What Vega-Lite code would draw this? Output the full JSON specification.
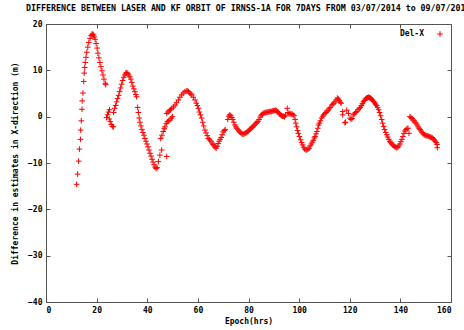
{
  "$schema": "https://vega.github.io/schema/vega-lite/v6.json",
  "width": 405,
  "height": 278,
  "autosize": "none",
  "padding": {"left": 46, "top": 24, "right": 13, "bottom": 28},
  "background": "white",
  "title": {"text": "DIFFERENCE BETWEEN LASER AND KF ORBIT OF IRNSS-1A FOR 7DAYS FROM 03/07/2014 to 09/07/2014", "anchor": "start", "frame": "group", "dx": -20, "offset": 8, "font": "DejaVu Sans Mono", "fontSize": 8.3, "fontWeight": "bold", "color": "#000"},
  "config": {"view": {"stroke": "#555", "strokeWidth": 1}, "axis": {"grid": false, "domain": false, "labelFont": "DejaVu Sans Mono", "labelFontSize": 8, "labelFontWeight": "bold", "labelColor": "#000", "titleFont": "DejaVu Sans Mono", "titleFontSize": 8, "titleFontWeight": "bold", "titleColor": "#000", "tickColor": "#555", "tickSize": -4, "labelPadding": 8}},
  "datasets": {"pts": [
    {"epoch":12.1,"delx":-14.6},{"epoch":12.5,"delx":-12.4},{"epoch":12.9,"delx":-9.6},{"epoch":13.2,"delx":-7.0},{"epoch":13.6,"delx":-4.9},{"epoch":13.7,"delx":-2.9},{"epoch":13.95,"delx":-0.9},{"epoch":14.2,"delx":1.6},{"epoch":14.3,"delx":3.4},{"epoch":14.6,"delx":5.1},{"epoch":14.9,"delx":7.6},{"epoch":15.1,"delx":9.4},{"epoch":15.3,"delx":10.6},{"epoch":15.5,"delx":11.7},{"epoch":15.8,"delx":12.8},{"epoch":16.1,"delx":13.9},{"epoch":16.5,"delx":15.0},{"epoch":16.9,"delx":16.0},{"epoch":17.4,"delx":16.9},{"epoch":17.8,"delx":17.5},{"epoch":18.2,"delx":17.8},{"epoch":18.5,"delx":17.8},{"epoch":18.8,"delx":17.6},{"epoch":19.1,"delx":17.2},{"epoch":19.4,"delx":16.7},{"epoch":19.8,"delx":15.8},{"epoch":20.2,"delx":14.8},{"epoch":20.5,"delx":13.7},{"epoch":20.9,"delx":12.7},{"epoch":21.3,"delx":11.7},{"epoch":21.7,"delx":10.8},{"epoch":22.1,"delx":9.9},{"epoch":22.5,"delx":9.0},{"epoch":22.9,"delx":8.1},{"epoch":23.4,"delx":7.2},{"epoch":23.6,"delx":6.9},
    {"epoch":23.9,"delx":-0.2},{"epoch":24.3,"delx":0.4},{"epoch":24.7,"delx":1.0},{"epoch":25.1,"delx":1.5},{"epoch":25.0,"delx":-0.5},{"epoch":25.4,"delx":-1.1},{"epoch":25.8,"delx":-1.7},{"epoch":26.2,"delx":-2.1},{"epoch":26.6,"delx":-2.2},{"epoch":26.7,"delx":0.9},{"epoch":27.1,"delx":1.8},{"epoch":27.5,"delx":2.4},{"epoch":27.9,"delx":3.2},{"epoch":28.3,"delx":3.9},{"epoch":28.7,"delx":4.6},{"epoch":29.1,"delx":5.4},{"epoch":29.5,"delx":6.2},{"epoch":29.9,"delx":7.0},{"epoch":30.3,"delx":7.8},{"epoch":30.7,"delx":8.5},{"epoch":31.1,"delx":9.0},{"epoch":31.5,"delx":9.4},{"epoch":31.9,"delx":9.5},{"epoch":32.3,"delx":9.3},{"epoch":32.7,"delx":9.0},{"epoch":33.1,"delx":8.6},{"epoch":33.5,"delx":8.1},{"epoch":33.9,"delx":7.4},{"epoch":34.3,"delx":6.6},{"epoch":34.7,"delx":6.0},{"epoch":35.1,"delx":5.4},{"epoch":35.5,"delx":4.8},{"epoch":35.8,"delx":4.3},
    {"epoch":36.2,"delx":2.0},{"epoch":36.5,"delx":0.9},{"epoch":36.8,"delx":-0.3},{"epoch":37.1,"delx":-1.2},{"epoch":37.5,"delx":-2.0},{"epoch":37.9,"delx":-2.8},{"epoch":38.3,"delx":-3.4},{"epoch":38.7,"delx":-4.0},{"epoch":39.1,"delx":-4.7},{"epoch":39.5,"delx":-5.3},{"epoch":39.9,"delx":-5.9},{"epoch":40.3,"delx":-6.5},{"epoch":40.7,"delx":-7.2},{"epoch":41.1,"delx":-7.9},{"epoch":41.5,"delx":-8.5},{"epoch":41.9,"delx":-9.2},{"epoch":42.3,"delx":-9.8},{"epoch":42.7,"delx":-10.4},{"epoch":43.1,"delx":-10.9},{"epoch":43.5,"delx":-11.2},{"epoch":43.9,"delx":-11.0},{"epoch":44.4,"delx":-9.7},{"epoch":45.0,"delx":-8.3},{"epoch":45.7,"delx":-7.2},{"epoch":47.7,"delx":-8.6},{"epoch":45.3,"delx":-4.7},{"epoch":45.8,"delx":-4.0},{"epoch":46.3,"delx":-3.2},{"epoch":46.7,"delx":-2.6},{"epoch":47.0,"delx":-2.2},{"epoch":47.5,"delx":-1.5},{"epoch":47.9,"delx":-1.1},{"epoch":48.5,"delx":-0.9},{"epoch":49.0,"delx":-0.7},{"epoch":49.5,"delx":-0.3},{"epoch":50.0,"delx":0.0},{"epoch":47.7,"delx":0.7},{"epoch":48.2,"delx":1.0},{"epoch":48.7,"delx":1.3},{"epoch":49.2,"delx":1.5},{"epoch":49.7,"delx":1.8},{"epoch":50.4,"delx":2.1},{"epoch":51.0,"delx":2.5},{"epoch":51.6,"delx":3.0},{"epoch":52.3,"delx":3.6},{"epoch":52.9,"delx":4.2},{"epoch":53.6,"delx":4.7},{"epoch":54.2,"delx":5.1},{"epoch":54.9,"delx":5.4},{"epoch":55.4,"delx":5.5},{"epoch":55.8,"delx":5.6},{"epoch":56.3,"delx":5.4},{"epoch":56.8,"delx":5.1},{"epoch":57.2,"delx":4.9},{"epoch":57.6,"delx":4.7},{"epoch":58.2,"delx":4.2},{"epoch":58.9,"delx":3.6},{"epoch":59.4,"delx":2.9},{"epoch":59.8,"delx":2.4},{"epoch":60.2,"delx":1.8},{"epoch":60.6,"delx":1.0},{"epoch":61.0,"delx":0.4},{"epoch":61.5,"delx":-0.3},{"epoch":61.9,"delx":-1.2},{"epoch":62.3,"delx":-2.0},{"epoch":62.8,"delx":-2.9},{"epoch":63.2,"delx":-3.5},{"epoch":63.7,"delx":-4.1},{"epoch":64.1,"delx":-4.7},{"epoch":64.6,"delx":-5.0},{"epoch":65.2,"delx":-5.3},{"epoch":65.6,"delx":-5.7},{"epoch":66.0,"delx":-6.0},{"epoch":66.4,"delx":-6.3},{"epoch":66.8,"delx":-6.6},{"epoch":67.2,"delx":-6.8},{"epoch":67.6,"delx":-6.4},{"epoch":68.0,"delx":-5.8},{"epoch":68.4,"delx":-5.3},{"epoch":68.8,"delx":-4.9},{"epoch":69.2,"delx":-4.5},{"epoch":69.6,"delx":-3.9},{"epoch":70.0,"delx":-3.3},{"epoch":70.4,"delx":-3.0},{"epoch":70.8,"delx":-2.8},
    {"epoch":71.8,"delx":-0.6},{"epoch":72.2,"delx":0.1},{"epoch":72.6,"delx":0.4},{"epoch":73.0,"delx":0.2},{"epoch":73.4,"delx":-0.2},{"epoch":73.8,"delx":-0.6},{"epoch":74.2,"delx":-1.2},{"epoch":74.6,"delx":-1.8},{"epoch":75.0,"delx":-2.2},{"epoch":75.4,"delx":-2.5},{"epoch":75.8,"delx":-2.8},{"epoch":76.2,"delx":-3.1},{"epoch":76.6,"delx":-3.3},{"epoch":77.0,"delx":-3.5},{"epoch":77.4,"delx":-3.7},{"epoch":77.8,"delx":-3.8},{"epoch":78.2,"delx":-3.7},{"epoch":78.6,"delx":-3.6},{"epoch":79.0,"delx":-3.5},{"epoch":79.4,"delx":-3.3},{"epoch":79.8,"delx":-3.2},{"epoch":80.2,"delx":-3.0},{"epoch":80.6,"delx":-2.7},{"epoch":81.0,"delx":-2.5},{"epoch":81.4,"delx":-2.3},{"epoch":81.8,"delx":-2.2},{"epoch":82.2,"delx":-1.9},{"epoch":82.6,"delx":-1.6},{"epoch":83.0,"delx":-1.4},{"epoch":83.4,"delx":-1.2},{"epoch":83.8,"delx":-1.0},{"epoch":84.2,"delx":-0.6},{"epoch":84.6,"delx":-0.1},{"epoch":85.0,"delx":0.3},{"epoch":85.4,"delx":0.5},{"epoch":85.8,"delx":0.7},{"epoch":86.2,"delx":0.8},{"epoch":86.6,"delx":0.9},{"epoch":87.0,"delx":0.9},{"epoch":87.4,"delx":1.0},{"epoch":87.8,"delx":1.0},{"epoch":88.2,"delx":1.1},{"epoch":88.6,"delx":1.1},{"epoch":89.0,"delx":1.1},{"epoch":89.4,"delx":1.2},{"epoch":89.8,"delx":1.3},{"epoch":90.2,"delx":1.3},{"epoch":90.6,"delx":1.4},{"epoch":91.0,"delx":1.3},{"epoch":91.4,"delx":1.1},{"epoch":91.8,"delx":0.9},{"epoch":92.2,"delx":0.6},{"epoch":92.6,"delx":0.4},{"epoch":93.0,"delx":0.2},{"epoch":93.4,"delx":0.1},{"epoch":93.8,"delx":0.1},{"epoch":94.2,"delx":0.0},{"epoch":94.6,"delx":0.3},{"epoch":95.3,"delx":1.8},{"epoch":95.6,"delx":0.9},{"epoch":96.0,"delx":0.6},{"epoch":96.4,"delx":0.7},{"epoch":96.8,"delx":0.5},{"epoch":97.2,"delx":0.6},{"epoch":97.6,"delx":0.4},{"epoch":98.0,"delx":0.2},{"epoch":98.4,"delx":-0.6},{"epoch":98.7,"delx":-1.4},{"epoch":99.0,"delx":-2.2},{"epoch":99.4,"delx":-3.0},{"epoch":99.7,"delx":-3.6},{"epoch":100.1,"delx":-4.3},{"epoch":100.6,"delx":-5.0},{"epoch":101.0,"delx":-5.6},{"epoch":101.4,"delx":-6.1},{"epoch":101.8,"delx":-6.6},{"epoch":102.2,"delx":-7.0},{"epoch":102.7,"delx":-7.2},{"epoch":103.1,"delx":-7.1},{"epoch":103.5,"delx":-7.0},{"epoch":104.0,"delx":-6.8},{"epoch":104.4,"delx":-6.3},{"epoch":104.8,"delx":-5.9},{"epoch":105.2,"delx":-5.5},{"epoch":105.6,"delx":-5.1},{"epoch":106.0,"delx":-4.6},{"epoch":106.3,"delx":-4.3},{"epoch":106.7,"delx":-3.7},{"epoch":107.0,"delx":-3.2},{"epoch":107.4,"delx":-2.5},{"epoch":107.7,"delx":-1.8},{"epoch":108.0,"delx":-1.4},{"epoch":108.4,"delx":-0.9},{"epoch":108.9,"delx":-0.3},{"epoch":109.3,"delx":0.1},{"epoch":109.7,"delx":0.4},{"epoch":110.2,"delx":0.7},{"epoch":110.6,"delx":0.9},{"epoch":111.0,"delx":1.2},{"epoch":111.5,"delx":1.4},{"epoch":111.9,"delx":1.7},{"epoch":112.3,"delx":2.0},{"epoch":112.9,"delx":2.5},{"epoch":113.3,"delx":2.7},{"epoch":113.7,"delx":2.9},{"epoch":114.2,"delx":3.2},{"epoch":114.6,"delx":3.6},{"epoch":115.1,"delx":4.0},{"epoch":115.5,"delx":3.8},{"epoch":115.9,"delx":3.5},{"epoch":116.3,"delx":3.1},{"epoch":116.6,"delx":2.9},{"epoch":117.2,"delx":1.1},{"epoch":117.2,"delx":0.4},{"epoch":118.1,"delx":-1.3},{"epoch":118.3,"delx":-1.2},{"epoch":118.8,"delx":1.4},{"epoch":119.5,"delx":0.7},{"epoch":120.1,"delx":-0.3},{"epoch":120.5,"delx":-0.6},{"epoch":120.9,"delx":-0.4},{"epoch":121.4,"delx":0.4},{"epoch":121.8,"delx":0.6},{"epoch":122.3,"delx":0.9},{"epoch":122.8,"delx":1.1},{"epoch":123.3,"delx":1.5},{"epoch":123.8,"delx":1.8},
    {"epoch":124.2,"delx":2.0},{"epoch":124.6,"delx":2.4},{"epoch":125.0,"delx":2.8},{"epoch":125.4,"delx":3.2},{"epoch":125.8,"delx":3.5},{"epoch":126.2,"delx":3.8},{"epoch":126.6,"delx":4.0},{"epoch":127.0,"delx":4.1},{"epoch":127.4,"delx":4.2},{"epoch":127.8,"delx":4.1},{"epoch":128.2,"delx":4.0},{"epoch":128.6,"delx":3.8},{"epoch":129.0,"delx":3.6},{"epoch":129.4,"delx":3.3},{"epoch":129.8,"delx":3.0},{"epoch":130.2,"delx":2.7},{"epoch":130.6,"delx":2.4},{"epoch":131.0,"delx":2.0},{"epoch":131.4,"delx":1.5},{"epoch":131.8,"delx":0.9},{"epoch":132.2,"delx":0.2},{"epoch":132.6,"delx":-0.6},{"epoch":133.0,"delx":-1.4},{"epoch":133.4,"delx":-2.1},{"epoch":133.8,"delx":-2.8},{"epoch":134.2,"delx":-3.4},{"epoch":134.6,"delx":-3.9},{"epoch":135.0,"delx":-4.4},{"epoch":135.4,"delx":-4.9},{"epoch":135.8,"delx":-5.3},{"epoch":136.2,"delx":-5.6},{"epoch":136.6,"delx":-5.9},{"epoch":137.0,"delx":-6.1},{"epoch":137.4,"delx":-6.3},{"epoch":137.8,"delx":-6.5},{"epoch":138.2,"delx":-6.6},{"epoch":138.6,"delx":-6.7},{"epoch":139.0,"delx":-6.6},{"epoch":139.4,"delx":-6.3},{"epoch":139.8,"delx":-5.9},{"epoch":140.2,"delx":-5.4},{"epoch":140.6,"delx":-4.9},{"epoch":141.0,"delx":-4.3},{"epoch":141.4,"delx":-3.6},{"epoch":141.8,"delx":-3.1},{"epoch":142.2,"delx":-2.8},{"epoch":142.6,"delx":-2.6},{"epoch":143.0,"delx":-2.5},{"epoch":143.4,"delx":-3.6},{"epoch":143.8,"delx":0.0},{"epoch":144.2,"delx":-0.2},{"epoch":144.6,"delx":-0.4},{"epoch":145.0,"delx":-0.7},{"epoch":145.4,"delx":-0.9},{"epoch":145.8,"delx":-1.2},{"epoch":146.2,"delx":-1.4},{"epoch":146.6,"delx":-1.8},{"epoch":147.0,"delx":-2.2},{"epoch":147.4,"delx":-2.5},{"epoch":147.8,"delx":-2.8},{"epoch":148.2,"delx":-3.1},{"epoch":148.6,"delx":-3.4},{"epoch":149.0,"delx":-3.7},{"epoch":149.4,"delx":-3.9},{"epoch":149.8,"delx":-4.0},{"epoch":150.2,"delx":-4.1},{"epoch":150.6,"delx":-4.1},{"epoch":151.0,"delx":-4.2},{"epoch":151.4,"delx":-4.3},{"epoch":151.8,"delx":-4.4},{"epoch":152.2,"delx":-4.5},{"epoch":152.6,"delx":-4.6},{"epoch":153.0,"delx":-4.8},{"epoch":153.4,"delx":-5.0},{"epoch":153.8,"delx":-5.3},{"epoch":154.2,"delx":-5.6},{"epoch":154.5,"delx":-6.0},{"epoch":154.6,"delx":-6.7}
  ]},
  "data": {"name": "pts"},
  "transform": [{"calculate": "'Del-X'", "as": "series"}],
  "resolve": {"axis": {"x": "independent", "y": "independent"}},
  "layer": [
    {
      "mark": {"type": "point", "shape": "M-1,0L1,0M0,-1L0,1", "filled": false, "strokeWidth": 1, "size": 32, "opacity": 1},
      "encoding": {
        "x": {"field": "epoch", "type": "quantitative", "scale": {"domain": [0, 160], "nice": false}, "axis": {"orient": "bottom", "values": [0,20,40,60,80,100,120,140,160], "title": "Epoch(hrs)", "titlePadding": 3}},
        "y": {"field": "delx", "type": "quantitative", "scale": {"domain": [-40, 20], "nice": false}, "axis": {"orient": "left", "values": [-40,-30,-20,-10,0,10,20], "title": "Difference in estimates in X-direction (m)", "titlePadding": 8}},
        "color": {"field": "series", "type": "nominal", "scale": {"domain": ["Del-X"], "range": ["#ff0000"]}, "legend": {"title": null, "orient": "top-right", "offset": 6, "labelFont": "DejaVu Sans Mono", "labelFontSize": 8, "labelFontWeight": "bold", "labelColor": "#000", "symbolType": "M-1,0L1,0M0,-1L0,1", "symbolSize": 32, "symbolStrokeWidth": 1, "symbolFillColor": "transparent", "labelAlign": "right", "labelOffset": -20}}
      }
    },
    {
      "mark": {"type": "point", "opacity": 0},
      "encoding": {
        "x": {"field": "epoch", "type": "quantitative", "axis": {"orient": "top", "values": [0,20,40,60,80,100,120,140,160], "labels": false, "title": null}},
        "y": {"field": "delx", "type": "quantitative", "axis": {"orient": "right", "values": [-40,-30,-20,-10,0,10,20], "labels": false, "title": null}}
      }
    }
  ]
}
